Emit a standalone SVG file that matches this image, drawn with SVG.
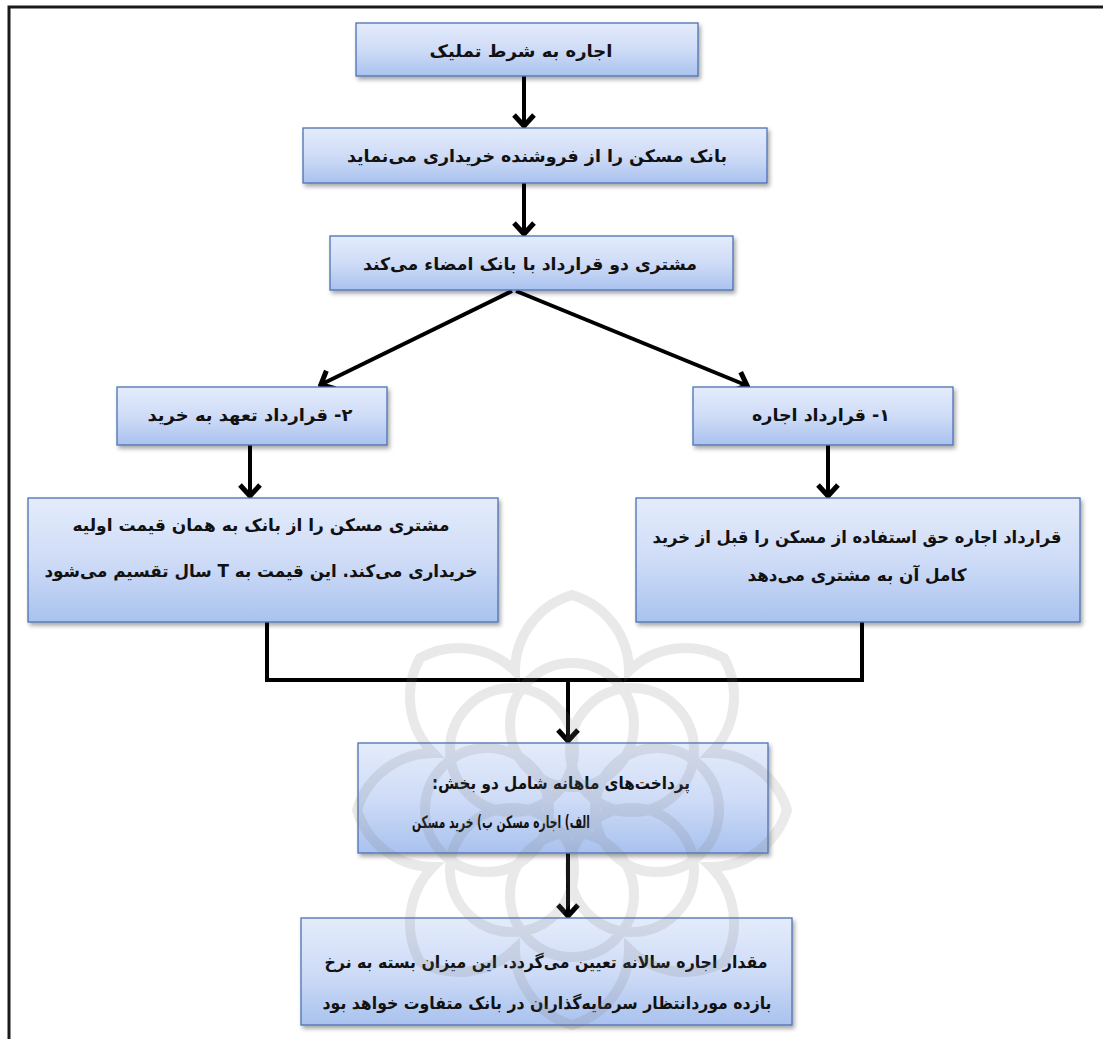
<svg xmlns="http://www.w3.org/2000/svg" width="1103" height="1039" viewBox="0 0 1103 1039">
  <defs>
    <linearGradient id="boxFill" x1="0" y1="0" x2="0" y2="1">
      <stop offset="0" stop-color="#e4ecfb"/>
      <stop offset="0.5" stop-color="#cfdcf7"/>
      <stop offset="1" stop-color="#a9c2ee"/>
    </linearGradient>
    <filter id="shadow" x="-5%" y="-10%" width="110%" height="130%">
      <feDropShadow dx="2" dy="3" stdDeviation="2" flood-color="#000" flood-opacity="0.35"/>
    </filter>
    <marker id="head" viewBox="-15 -12 17 24" markerWidth="17" markerHeight="24" refX="0" refY="0" orient="auto" markerUnits="userSpaceOnUse">
      <path d="M-12,-10 L-1,0 L-12,10" fill="none" stroke="#000" stroke-width="5" stroke-linejoin="miter"/>
    </marker>
    <style>
      .box { fill: url(#boxFill); stroke: #4c70b4; stroke-width: 1.3; filter: url(#shadow); }
      .lbl { font-family: "DejaVu Sans", "Noto Sans", sans-serif; font-weight: bold; font-size: 17px; fill: #111; text-anchor: middle; direction: rtl; }
      .conn { fill: none; stroke: #000; stroke-width: 4; }
      .arrow { marker-end: url(#head); }
      .wm { fill: none; stroke: #7a7a7a; stroke-width: 10; opacity: 0.16; }
    </style>
  </defs>

  <rect width="1103" height="1039" fill="#fff"/>
  <!-- page frame: left and top rules -->
  <path d="M9,1039 V7 H1103" fill="none" stroke="#1a1a1a" stroke-width="3"/>

  <g id="connectors">
    <line class="conn arrow" x1="524" y1="76" x2="524" y2="127"/>
    <line class="conn arrow" x1="524" y1="183" x2="524" y2="235"/>
    <line class="conn arrow" x1="512" y1="291" x2="320" y2="385"/>
    <line class="conn arrow" x1="516" y1="291" x2="748" y2="386"/>
    <line class="conn arrow" x1="250" y1="445" x2="250" y2="497"/>
    <line class="conn arrow" x1="828" y1="445" x2="828" y2="497"/>
    <path class="conn" d="M267,622 V680 H862 V622"/>
    <line class="conn arrow" x1="568" y1="680" x2="568" y2="742"/>
    <line class="conn arrow" x1="568" y1="853" x2="568" y2="917"/>
  </g>

  <g id="n-start">
    <rect class="box" x="356" y="23" width="342" height="53"/>
    <text class="lbl" x="521" y="57" textLength="183" lengthAdjust="spacingAndGlyphs">اجاره به شرط تملیک</text>
  </g>
  <g id="n-bank-buys">
    <rect class="box" x="303" y="128" width="464" height="55"/>
    <text class="lbl" x="537" y="162" textLength="380" lengthAdjust="spacingAndGlyphs">بانک مسکن را از فروشنده خریداری می‌نماید</text>
  </g>
  <g id="n-two-contracts">
    <rect class="box" x="330" y="236" width="403" height="54"/>
    <text class="lbl" x="530" y="270" textLength="334" lengthAdjust="spacingAndGlyphs">مشتری دو قرارداد با بانک امضاء می‌کند</text>
  </g>
  <g id="n-purchase-contract">
    <rect class="box" x="117" y="387" width="270" height="58"/>
    <text class="lbl" x="250" y="421" textLength="205" lengthAdjust="spacingAndGlyphs">۲- قرارداد تعهد به خرید</text>
  </g>
  <g id="n-lease-contract">
    <rect class="box" x="693" y="387" width="260" height="58"/>
    <text class="lbl" x="821" y="421" textLength="138" lengthAdjust="spacingAndGlyphs">۱- قرارداد اجاره</text>
  </g>
  <g id="n-purchase-detail">
    <rect class="box" x="28" y="498" width="470" height="124"/>
    <text class="lbl" x="261" y="531" textLength="377" lengthAdjust="spacingAndGlyphs">مشتری مسکن را از بانک به همان قیمت اولیه</text>
    <text class="lbl" x="261" y="577" textLength="433" lengthAdjust="spacingAndGlyphs">خریداری می‌کند. این قیمت به T سال تقسیم می‌شود</text>
  </g>
  <g id="n-lease-detail">
    <rect class="box" x="636" y="498" width="444" height="124"/>
    <text class="lbl" x="857" y="543" textLength="409" lengthAdjust="spacingAndGlyphs">قرارداد اجاره حق استفاده از مسکن را قبل از خرید</text>
    <text class="lbl" x="857" y="581" textLength="219" lengthAdjust="spacingAndGlyphs">کامل آن به مشتری می‌دهد</text>
  </g>
  <g id="n-monthly">
    <rect class="box" x="358" y="743" width="410" height="110"/>
    <text class="lbl" x="561" y="789" textLength="258" lengthAdjust="spacingAndGlyphs">پرداخت‌های ماهانه شامل دو بخش:</text>
    <text class="lbl" x="501" y="828" textLength="178" lengthAdjust="spacingAndGlyphs">الف) اجاره مسکن ب) خرید مسکن</text>
  </g>
  <g id="n-annual-rent">
    <rect class="box" x="301" y="918" width="491" height="107"/>
    <text class="lbl" x="546" y="968" textLength="443" lengthAdjust="spacingAndGlyphs">مقدار اجاره سالانه تعیین می‌گردد. این میزان بسته به نرخ</text>
    <text class="lbl" x="547" y="1009" textLength="449" lengthAdjust="spacingAndGlyphs">بازده موردانتظار سرمایه‌گذاران در بانک متفاوت خواهد بود</text>
  </g>

  <!-- faint rosette emblem over the lower part -->
  <g id="watermark" class="wm">
    <path d="M515,671 A80,80 0 0 1 572,595 A80,80 0 0 1 629,671
             A80,80 0 0 1 724,658 A80,80 0 0 1 711,753
             A80,80 0 0 1 787,810 A80,80 0 0 1 711,867
             A80,80 0 0 1 724,962 A80,80 0 0 1 629,949
             A80,80 0 0 1 572,1025 A80,80 0 0 1 515,949
             A80,80 0 0 1 420,962 A80,80 0 0 1 433,867
             A80,80 0 0 1 357,810 A80,80 0 0 1 433,753
             A80,80 0 0 1 420,658 A80,80 0 0 1 515,671 Z"/>
    <circle cx="572" cy="725" r="62"/>
    <circle cx="632" cy="750" r="62"/>
    <circle cx="657" cy="810" r="62"/>
    <circle cx="632" cy="870" r="62"/>
    <circle cx="572" cy="895" r="62"/>
    <circle cx="512" cy="870" r="62"/>
    <circle cx="487" cy="810" r="62"/>
    <circle cx="512" cy="750" r="62"/>
  </g>
</svg>
